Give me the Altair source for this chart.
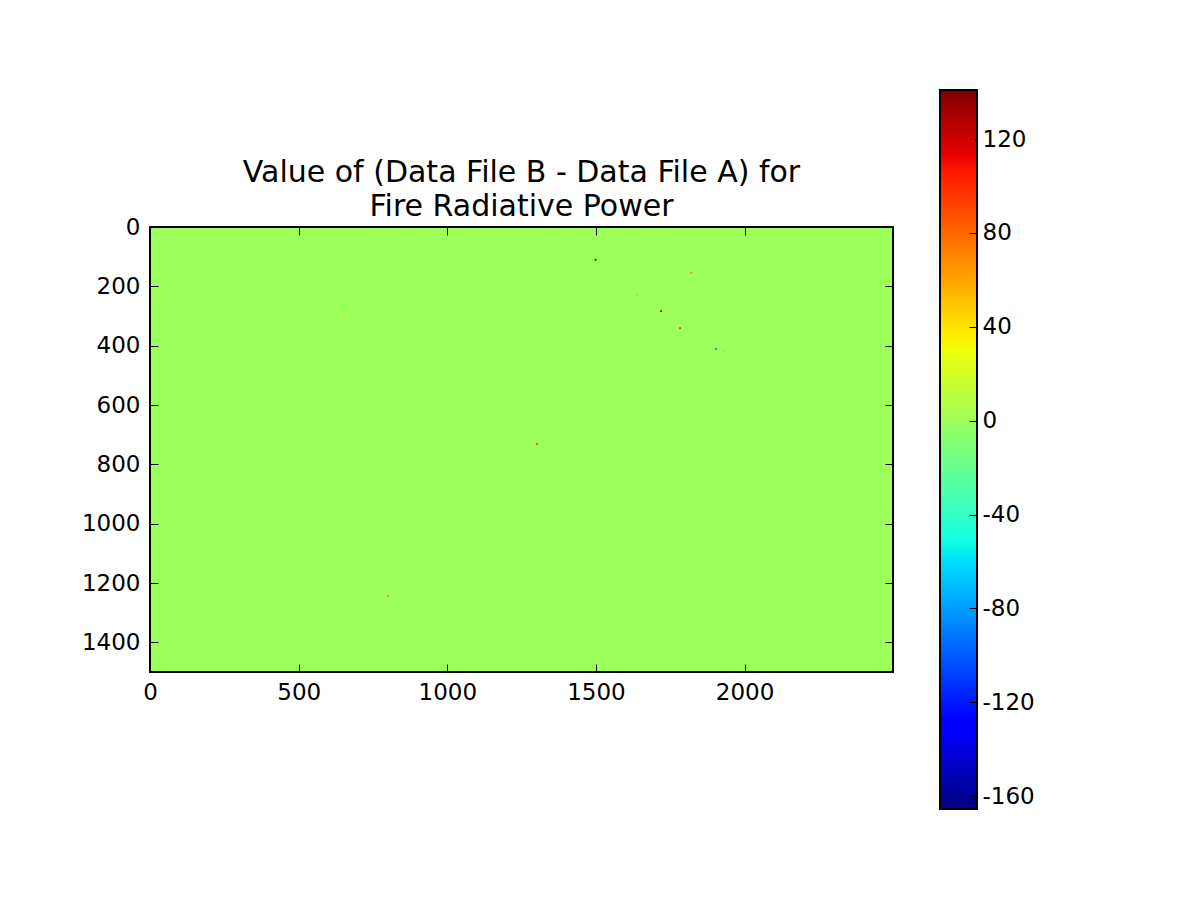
import altair as alt
import numpy as np
import pandas as pd

# ---- data ----
n_cols = 2500
n_rows = 1500
background_value = 0.0
vmin, vmax = -165.5, 140.9

speck_col = [1499, 1820, 1639, 1753, 1719, 1783, 1904, 1931, 801, 1302, 649, 831, 878]
speck_row = [110, 153, 229, 253, 283, 340, 411, 418, 1244, 731, 300, 893, 974]
speck_val = [140, 70, 50, 10, 130, 100, -90, -30, 70, 90, 40, -20, -10]

x_ticks = [0, 500, 1000, 1500, 2000]
y_ticks = [0, 200, 400, 600, 800, 1000, 1200, 1400]
cbar_ticks = [-160, -120, -80, -40, 0, 40, 80, 120]
title_lines = ["Value of (Data File B - Data File A) for", "Fire Radiative Power"]

# ---- jet colormap (matplotlib segment data) ----
R = [(0, 0), (0.35, 0), (0.66, 1), (0.89, 1), (1, 0.5)]
G = [(0, 0), (0.125, 0), (0.375, 1), (0.64, 1), (0.91, 0), (1, 0)]
B = [(0, 0.5), (0.11, 1), (0.34, 1), (0.65, 0), (1, 0)]
ts = sorted(set([p[0] for p in R + G + B]))


def chan(seg, t):
    return float(np.interp(t, [p[0] for p in seg], [p[1] for p in seg]))


def hexcol(t):
    r, g, b = (int(round(255 * chan(s, t))) for s in (R, G, B))
    return "#%02x%02x%02x" % (r, g, b)


jet_colors = [hexcol(t) for t in ts]
jet_domain = [vmin + t * (vmax - vmin) for t in ts]

dot = 3
rows = [{"x0": -0.5, "x1": n_cols - 0.5, "y0": -0.5, "y1": n_rows - 0.5, "v": background_value}]
for c, r, v in zip(speck_col, speck_row, speck_val):
    rows.append({"x0": c - dot, "x1": c + dot, "y0": r - dot, "y1": r + dot, "v": v})
df = pd.DataFrame(rows)
frame_df = df.iloc[[0]]

W, H = 743, 445
FONT = "DejaVu Sans"
LFS = 23
LABEL = "'' + datum.value"

xs = alt.Scale(domain=[-0.5, n_cols - 0.5], nice=False, zero=False)
ys = alt.Scale(domain=[-0.5, n_rows - 0.5], nice=False, zero=False, reverse=True)
cs = alt.Scale(domain=jet_domain, range=jet_colors, type="linear", interpolate="rgb", clamp=True)

base = alt.Chart(df)

# main image with labelled axes
img = base.mark_rect().encode(
    x=alt.X("x0:Q", scale=xs, title=None,
            axis=alt.Axis(orient="bottom", values=x_ticks, ticks=False, domain=False, grid=False,
                          labelFlush=False, labelExpr=LABEL,
                          labelPadding=9, labelFontSize=LFS, labelFont=FONT, labelColor="black")),
    x2="x1",
    y=alt.Y("y0:Q", scale=ys, title=None,
            axis=alt.Axis(orient="left", values=y_ticks, ticks=False, domain=False, grid=False,
                          labelFlush=False, labelExpr=LABEL,
                          labelPadding=10, labelFontSize=LFS, labelFont=FONT, labelColor="black")),
    y2="y1",
    color=alt.Color("v:Q", scale=cs, legend=None),
)

tick_style = dict(labels=False, domain=False, grid=False, ticks=True, tickSize=8,
                  tickColor="black", tickWidth=1, zindex=2)

# inward ticks on bottom & left edges, plus frame
frame = alt.Chart(frame_df).mark_rect(fill=None, fillOpacity=0, stroke="black", strokeWidth=2).encode(
    x=alt.X("x0:Q", scale=xs, title=None,
            axis=alt.Axis(orient="top", offset=-H, values=x_ticks, **tick_style)),
    x2="x1",
    y=alt.Y("y0:Q", scale=ys, title=None,
            axis=alt.Axis(orient="right", offset=-W, values=y_ticks, **tick_style)),
    y2="y1",
)

# inward ticks on top & right edges
ticks2 = alt.Chart(frame_df).mark_rect(opacity=0).encode(
    x=alt.X("x0:Q", scale=xs, title=None,
            axis=alt.Axis(orient="bottom", offset=-H, values=x_ticks, **tick_style)),
    x2="x1",
    y=alt.Y("y0:Q", scale=ys, title=None,
            axis=alt.Axis(orient="left", offset=-W, values=y_ticks, **tick_style)),
    y2="y1",
)

# colorbar
cb_left, cb_right = 790, 827
cb_top, cb_bottom = -137, 582
cbs = alt.Scale(domain=[vmin, vmax], range=[cb_bottom, cb_top], nice=False, zero=False)
cb_df = pd.DataFrame({"lo": [vmin], "hi": [vmax]})
grad = {
    "gradient": "linear", "x1": 0, "y1": 1, "x2": 0, "y2": 0,
    "stops": [{"offset": t, "color": c} for t, c in zip(ts, jet_colors)],
}
cbar = alt.Chart(cb_df).mark_rect(fill=grad, stroke="black", strokeWidth=2).encode(
    x=alt.value(cb_left), x2=alt.value(cb_right),
    y=alt.Y("lo:Q", scale=cbs, title=None,
            axis=alt.Axis(orient="right", offset=cb_right - W, values=cbar_ticks, ticks=False, domain=False,
                          grid=False, labelPadding=5, labelFontSize=LFS, labelFont=FONT, labelColor="black",
                          labelFlush=False, labelExpr=LABEL)),
    y2="hi",
)
cbar_ticks_layer = alt.Chart(cb_df).mark_rect(opacity=0).encode(
    x=alt.value(cb_left), x2=alt.value(cb_right),
    y=alt.Y("lo:Q", scale=cbs, title=None,
            axis=alt.Axis(orient="left", offset=-cb_right, values=cbar_ticks, **tick_style)),
    y2="hi",
)

chart = alt.layer(img, frame, ticks2, cbar, cbar_ticks_layer).resolve_scale(
    x="independent", y="independent"
).resolve_axis(
    x="independent", y="independent"
).properties(
    width=W, height=H,
    title=alt.TitleParams(title_lines, fontSize=30, font=FONT, fontWeight="normal", color="black",
                          lineHeight=34, anchor="middle", offset=-133),
    autosize=alt.AutoSizeParams(type="none"),
    padding={"left": 142, "top": 219, "right": 299, "bottom": 220},
).configure_view(stroke=None).configure(background="white")

chart.save("out.html", embed_options={"renderer": "svg", "actions": False})
